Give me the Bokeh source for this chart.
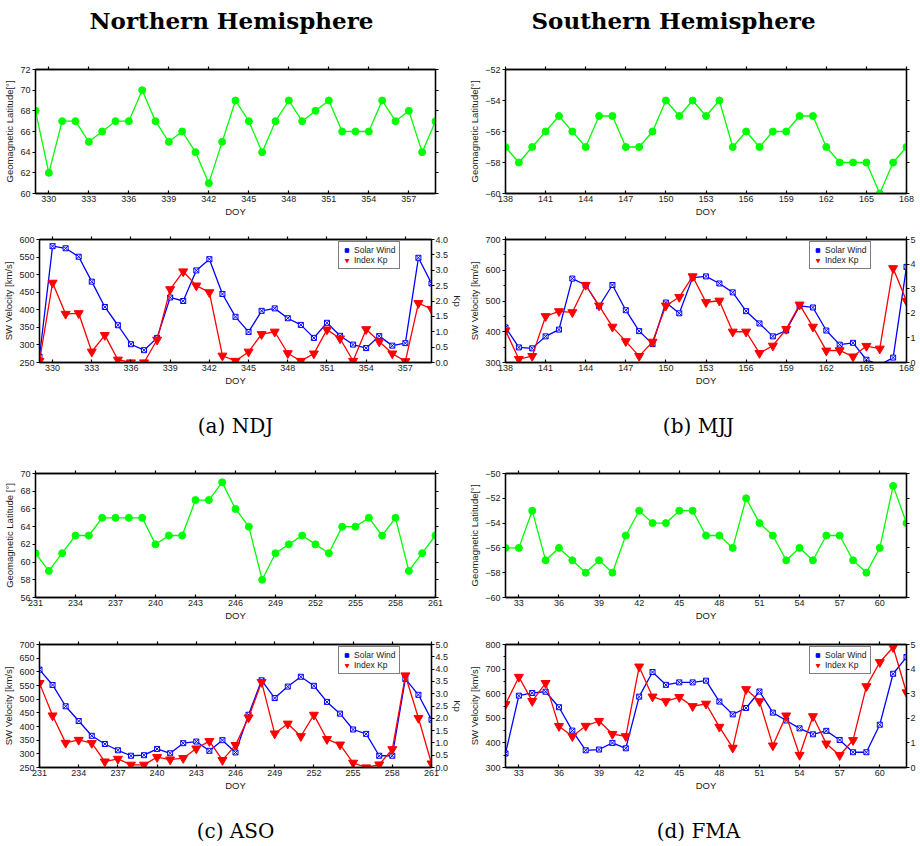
from bokeh.plotting import figure
from bokeh.layouts import column, row
from bokeh.models import (Range1d, LinearAxis, FixedTicker, Legend, LegendItem,
                          Label, PrintfTickFormatter, CustomLabelingPolicy)
from bokeh.embed import file_html
from bokeh.resources import INLINE

# ---------------- data ----------------
# NDJ (northern hemisphere, days 329-359)
ndj_days = list(range(329, 360))
ndj_lat = [68, 62, 67, 67, 65, 66, 67, 67, 70, 67, 65, 66, 64, 61, 65, 69,
           67, 64, 67, 69, 67, 68, 69, 66, 66, 66, 69, 67, 68, 64, 67]
ndj_sw = [267, 581, 575, 551, 480, 408, 356, 302, 285, 320, 435, 425, 512, 544,
          445, 380, 337, 397, 404, 376, 357, 320, 363, 326, 301, 291, 325, 298,
          305, 548, 475]
ndj_kp = [0.05, 2.59, 1.58, 1.6, 0.35, 0.89, 0.09, 0.0, 0.0, 0.74, 2.38, 2.96,
          2.5, 2.28, 0.22, 0.05, 0.35, 0.92, 1.0, 0.3, 0.05, 0.29, 1.07, 0.78,
          0.05, 1.08, 0.68, 0.29, 0.04, 1.93, 1.74]
ndj_xticks = [330, 333, 336, 339, 342, 345, 348, 351, 354, 357]

# MJJ (southern hemisphere, days 138-168)
mjj_days = list(range(138, 169))
mjj_lat = [-57, -58, -57, -56, -55, -56, -57, -55, -55, -57, -57, -56, -54, -55,
           -54, -55, -54, -57, -56, -57, -56, -56, -55, -55, -57, -58, -58, -58,
           -60, -58, -57]
mjj_sw = [414, 349, 346, 385, 407, 573, 552, 483, 552, 470, 402, 360, 495, 460,
          576, 580, 557, 528, 467, 427, 385, 404, 484, 479, 404, 358, 364, 309,
          292, 316, 611]
mjj_kp = [1.3, 0.14, 0.26, 1.88, 2.08, 2.04, 3.15, 2.31, 1.45, 0.86, 0.26, 0.84,
          2.31, 2.66, 3.5, 2.45, 2.51, 1.25, 1.25, 0.38, 0.68, 1.36, 2.35, 1.45,
          0.48, 0.49, 0.24, 0.67, 0.56, 3.83, 2.5]
mjj_xticks = [138, 141, 144, 147, 150, 153, 156, 159, 162, 165, 168]

# ASO (northern hemisphere, days 231-261)
aso_days = list(range(231, 262))
aso_lat = [61, 59, 61, 63, 63, 65, 65, 65, 65, 62, 63, 63, 67, 67, 69, 66, 64,
           58, 61, 62, 63, 62, 61, 64, 64, 65, 63, 65, 59, 61, 63]
aso_sw = [608, 552, 474, 420, 366, 336, 313, 293, 295, 318, 302, 339, 345, 311,
          350, 305, 443, 569, 504, 546, 582, 549, 490, 447, 389, 373, 293, 293,
          574, 516, 425]
aso_kp = [3.43, 2.11, 1.0, 1.12, 0.99, 0.24, 0.35, 0.11, 0.11, 0.42, 0.32, 0.38,
          0.77, 1.07, 0.3, 0.91, 2.03, 3.47, 1.38, 1.78, 1.27, 2.14, 1.15, 0.93,
          0.19, 0.0, 0.12, 0.74, 3.74, 2.01, 0.16]
aso_xticks = [231, 234, 237, 240, 243, 246, 249, 252, 255, 258, 261]

# FMA (southern hemisphere, days 32-62)
fma_days = list(range(32, 63))
fma_lat = [-56, -56, -53, -57, -56, -57, -58, -57, -58, -55, -53, -54, -54, -53,
           -53, -55, -55, -56, -52, -54, -55, -57, -56, -57, -55, -55, -57, -58,
           -56, -51, -54]
fma_sw = [357, 592, 603, 608, 545, 450, 370, 373, 400, 378, 588, 688, 636, 646,
          646, 653, 568, 516, 542, 609, 523, 491, 459, 435, 449, 412, 362, 362,
          474, 681, 749]
fma_kp = [2.57, 3.68, 2.7, 3.43, 1.68, 1.27, 1.69, 1.89, 1.36, 1.27, 4.1, 2.88,
          2.69, 2.86, 2.49, 2.59, 1.65, 0.8, 3.18, 2.69, 0.89, 2.11, 0.51, 2.08,
          0.97, 0.5, 1.11, 3.3, 4.28, 4.89, 3.05]
fma_xticks = [33, 36, 39, 42, 45, 48, 51, 54, 57, 60]

# ---------------- styling ----------------
GREEN = "#00ff00"
BLUE = "#0000ff"
RED = "#ff0000"
SANS = "Liberation Sans"
SERIF = "DejaVu Serif"
INK = "#1a1a1a"

LEFT_W, RIGHT_W = 466, 454
LEFT_B = (35, 31)    # left/right borders of the left column panels
RIGHT_B = (34, 14)   # left/right borders of the right column panels


def style_axis(ax):
    ax.axis_line_color = "black"
    ax.axis_line_width = 1.3
    ax.major_tick_line_color = "black"
    ax.major_tick_line_width = 1.2
    ax.minor_tick_line_color = "black"
    ax.major_label_text_font = SANS
    ax.major_label_text_font_size = "9px"
    ax.major_label_text_color = INK
    ax.axis_label_text_font = SANS
    ax.axis_label_text_font_size = "9.5px"
    ax.axis_label_text_font_style = "normal"
    ax.axis_label_text_color = INK


def tick_only_axis(ticks, **kw):
    """Mirror axis on the top/right frame edge: ticks, no labels."""
    ax = LinearAxis(ticker=FixedTicker(ticks=ticks), **kw)
    style_axis(ax)
    ax.major_label_policy = CustomLabelingPolicy(code="return []")
    ax.major_label_text_font_size = "1px"
    ax.major_label_standoff = 0
    ax.major_tick_out = 3
    ax.major_tick_in = 0
    ax.minor_tick_out = 0
    return ax


def minus_labels(ticks):
    return {t: (("\u2212%d" % -t) if t < 0 else "%d" % t) for t in ticks}


def base_panel(width, height, borders, xr, xticks, yr, yticks, ylabel,
               ylabel_map=None, yminor=None):
    bl, br, bt, bb = borders
    p = figure(width=width, height=height, x_range=Range1d(*xr), y_range=Range1d(*yr),
               output_backend="svg", toolbar_location=None,
               min_border_left=bl, min_border_right=br,
               min_border_top=bt, min_border_bottom=bb)
    p.grid.visible = False
    p.outline_line_color = "black"
    p.outline_line_width = 1.3
    p.background_fill_color = "white"
    p.border_fill_color = "white"

    xa = p.xaxis[0]
    style_axis(xa)
    xa.ticker = FixedTicker(ticks=xticks)
    xa.axis_label = "DOY"
    xa.major_tick_out = 0
    xa.major_tick_in = 3
    xa.minor_tick_out = 0
    xa.minor_tick_in = 0
    xa.major_label_standoff = 2
    xa.axis_label_standoff = 1

    ya = p.yaxis[0]
    style_axis(ya)
    ya.ticker = FixedTicker(ticks=yticks, minor_ticks=yminor or [])
    ya.axis_label = ylabel
    ya.major_tick_out = 3
    ya.major_tick_in = 0
    ya.minor_tick_out = 2
    ya.minor_tick_in = 0
    ya.major_label_standoff = 2
    ya.axis_label_standoff = 2
    if ylabel_map:
        ya.major_label_overrides = ylabel_map

    p.add_layout(tick_only_axis(xticks), "above")
    return p


def lat_panel(width, height, borders, days, lat, xticks, yr, yticks, ylabel):
    p = base_panel(width, height, borders, (days[0], days[-1]), xticks, yr, yticks,
                   ylabel, ylabel_map=minus_labels(yticks))
    p.add_layout(tick_only_axis(yticks), "right")
    p.line(days, lat, line_color=GREEN, line_width=1.3)
    p.scatter(days, lat, marker="circle", size=7, fill_color=GREEN, line_color=GREEN)
    return p


def sw_panel(width, height, borders, days, sw, kp, xticks, yr, yticks, kr, kticks,
             kfmt, legend_xy, kp_label=True, yminor=None):
    p = base_panel(width, height, borders, (days[0], days[-1]), xticks, yr, yticks,
                   "SW Velocity [km/s]", yminor=yminor)
    p.extra_y_ranges = {"kp": Range1d(*kr)}
    kax = LinearAxis(y_range_name="kp", ticker=FixedTicker(ticks=kticks))
    style_axis(kax)
    kax.formatter = PrintfTickFormatter(format=kfmt)
    kax.major_tick_out = 3
    kax.major_tick_in = 0
    kax.minor_tick_out = 0
    kax.major_label_standoff = 1
    kax.axis_label_standoff = 1
    if kp_label:
        kax.axis_label = "Kp"
    p.add_layout(kax, "right")

    p.line(days, sw, line_color=BLUE, line_width=1.3)
    p.scatter(days, sw, marker="square_x", size=5, line_color=BLUE,
              fill_color="white", line_width=1)
    p.line(days, kp, y_range_name="kp", line_color=RED, line_width=1.3)
    p.scatter(days, kp, y_range_name="kp", marker="inverted_triangle", size=9,
              fill_color=RED, line_color=RED)

    # legend keys: filled symbols without connecting lines (hidden in the plot area)
    sw_key = p.scatter(days, sw, marker="square", size=7, fill_color=BLUE,
                       line_color=BLUE, visible=False)
    kp_key = p.scatter(days, kp, y_range_name="kp", marker="inverted_triangle", size=8,
                       fill_color=RED, line_color=RED, visible=False)
    legend = Legend(items=[LegendItem(label="Solar Wind", renderers=[sw_key]),
                           LegendItem(label="Index Kp", renderers=[kp_key])],
                    location=legend_xy,
                    border_line_color="black", border_line_width=1,
                    background_fill_color="white", background_fill_alpha=1.0,
                    label_text_font=SANS, label_text_font_size="8.5px",
                    label_text_color=INK,
                    glyph_width=9, glyph_height=10, label_height=10,
                    spacing=0, padding=3, margin=0, label_standoff=3)
    p.add_layout(legend)
    return p


def text_strip(height, items, size, style):
    p = figure(width=920, height=height, x_range=Range1d(0, 920),
               y_range=Range1d(height, 0), output_backend="svg",
               toolbar_location=None, x_axis_type=None, y_axis_type=None,
               min_border=0)
    p.grid.visible = False
    p.outline_line_color = None
    for txt, cx, cy in items:
        p.add_layout(Label(x=cx, y=cy, text=txt, text_align="center",
                           text_baseline="middle", text_font=SERIF,
                           text_font_size=size, text_font_style=style,
                           text_color="black"))
    return p


# ---------------- panels ----------------
titles = text_strip(60, [("Northern Hemisphere", 231, 20),
                         ("Southern Hemisphere", 673, 20)], "23px", "bold")

ndj_lat_p = lat_panel(LEFT_W, 163, LEFT_B + (9, 30), ndj_days, ndj_lat, ndj_xticks,
                      (60, 72), [60, 62, 64, 66, 68, 70, 72], "Geomagnetic Latitude[°]")
mjj_lat_p = lat_panel(RIGHT_W, 163, RIGHT_B + (9, 30), mjj_days, mjj_lat, mjj_xticks,
                      (-60, -52), [-60, -58, -56, -54, -52], "Geomagnetic Latitude[°]")

ndj_sw_p = sw_panel(LEFT_W, 169, LEFT_B + (16, 30), ndj_days, ndj_sw, ndj_kp,
                    ndj_xticks, (250, 600), list(range(250, 601, 50)),
                    (0, 4), [i * 0.5 for i in range(9)], "%.1f", (299, 93))
mjj_sw_p = sw_panel(RIGHT_W, 169, RIGHT_B + (16, 30), mjj_days, mjj_sw, mjj_kp,
                    mjj_xticks, (300, 700), list(range(300, 701, 100)),
                    (0, 5), list(range(6)), "%d", (304, 93), kp_label=False,
                    yminor=[350, 450, 550, 650])

caps_top = text_strip(66, [("(a) NDJ", 235, 33), ("(b) MJJ", 698, 33)], "20px", "normal")

aso_lat_p = lat_panel(LEFT_W, 169, LEFT_B + (15, 30), aso_days, aso_lat, aso_xticks,
                      (56, 70), [56, 58, 60, 62, 64, 66, 68, 70], "Geomagnetic Latitude [°]")
fma_lat_p = lat_panel(RIGHT_W, 169, RIGHT_B + (15, 30), fma_days, fma_lat, fma_xticks,
                      (-60, -50), [-60, -58, -56, -54, -52, -50], "Geomagnetic Latitude[°]")

aso_sw_p = sw_panel(LEFT_W, 170, LEFT_B + (17, 30), aso_days, aso_sw, aso_kp,
                    aso_xticks, (250, 700), list(range(250, 701, 50)),
                    (0, 5), [i * 0.5 for i in range(11)], "%.1f", (299, 93))
fma_sw_p = sw_panel(RIGHT_W, 170, RIGHT_B + (17, 30), fma_days, fma_sw, fma_kp,
                    fma_xticks, (300, 800), list(range(300, 801, 100)),
                    (0, 5), list(range(6)), "%d", (304, 93), kp_label=False,
                    yminor=[350, 450, 550, 650, 750])

caps_bottom = text_strip(49, [("(c) ASO", 235, 33), ("(d) FMA", 698, 33)], "20px", "normal")

layout = column(titles,
                row(ndj_lat_p, mjj_lat_p),
                row(ndj_sw_p, mjj_sw_p),
                caps_top,
                row(aso_lat_p, fma_lat_p),
                row(aso_sw_p, fma_sw_p),
                caps_bottom)

with open("out.html", "w") as f:
    f.write(file_html(layout, INLINE))
